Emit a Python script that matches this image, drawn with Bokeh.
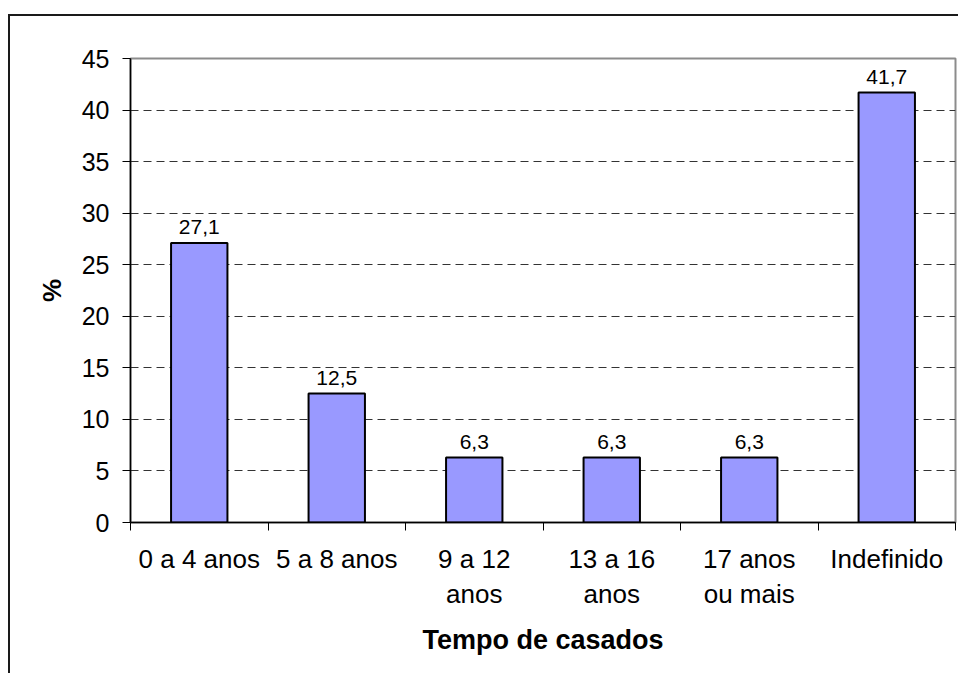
from bokeh.plotting import figure
from bokeh.models import Range1d, FixedTicker, ColumnDataSource, LabelSet
from bokeh.embed import file_html
from bokeh.resources import INLINE
from bokeh.core.properties import value

# ---- data ----
categories = ["0 a 4 anos", "5 a 8 anos", "9 a 12\nanos", "13 a 16\nanos", "17 anos\nou mais", "Indefinido"]
values = [27.1, 12.5, 6.3, 6.3, 6.3, 41.7]
value_labels = ["27,1", "12,5", "6,3", "6,3", "6,3", "41,7"]
y_ticks = [0, 5, 10, 15, 20, 25, 30, 35, 40, 45]
x_title = "Tempo de casados"
y_title = "%"

FONT = "Liberation Sans"

n = len(categories)
xs = [i + 0.5 for i in range(n)]
src = ColumnDataSource(dict(x=xs, top=values, label=value_labels))

p = figure(width=950, height=659,
           x_range=Range1d(0, n), y_range=Range1d(y_ticks[0], y_ticks[-1]),
           output_backend="svg", toolbar_location=None,
           min_border_left=120, min_border_top=42, min_border_right=5, min_border_bottom=153)

p.styles = {"margin-top": "14px", "margin-left": "8px",
            "border-top": "2px solid #1a1a1a", "border-left": "2px solid #1a1a1a"}

p.background_fill_color = "white"
p.border_fill_color = "white"
p.outline_line_color = "#8c8c8c"
p.outline_line_width = 2

p.vbar(x="x", top="top", width=0.41, source=src,
       fill_color="#9999FF", line_color="black", line_width=2)

labels = LabelSet(x="x", y="top", text="label", source=src, y_offset=9,
                  text_align="center", text_baseline="alphabetic",
                  text_font_size="21px", text_font=value(FONT), text_color="black")
p.add_layout(labels)

# grid
p.xgrid.grid_line_color = None
p.ygrid.ticker = FixedTicker(ticks=y_ticks)
p.ygrid.grid_line_color = "#333333"
p.ygrid.grid_line_dash = "8 5"
p.ygrid.grid_line_width = 1

# y axis
ya = p.yaxis[0]
ya.ticker = FixedTicker(ticks=y_ticks)
ya.axis_line_color = "black"
ya.axis_line_width = 1.5
ya.major_tick_out = 8
ya.major_tick_in = 0
ya.major_tick_line_color = "black"
ya.minor_tick_line_color = None
ya.major_label_text_font = FONT
ya.major_label_text_font_size = "25px"
ya.major_label_text_color = "black"
ya.major_label_standoff = 13
ya.axis_label = y_title
ya.axis_label_text_font = FONT
ya.axis_label_text_font_size = "26px"
ya.axis_label_text_font_style = "bold"
ya.axis_label_text_color = "black"
ya.axis_label_standoff = 12

# x axis
xa = p.xaxis[0]
xa.ticker = FixedTicker(ticks=xs, minor_ticks=list(range(0, n + 1)))
xa.major_label_overrides = {x: c for x, c in zip(xs, categories)}
xa.axis_line_color = "black"
xa.axis_line_width = 1.5
xa.major_tick_line_color = None
xa.minor_tick_line_color = "black"
xa.minor_tick_out = 8
xa.minor_tick_in = 0
xa.major_label_text_font = FONT
xa.major_label_text_font_size = "26px"
xa.major_label_text_line_height = 1.17
xa.major_label_text_color = "black"
xa.major_label_standoff = 13
xa.axis_label = x_title
xa.axis_label_text_font = FONT
xa.axis_label_text_font_size = "27px"
xa.axis_label_text_font_style = "bold"
xa.axis_label_text_color = "black"
xa.axis_label_standoff = 13

open("out.html", "w").write(file_html(p, INLINE))
